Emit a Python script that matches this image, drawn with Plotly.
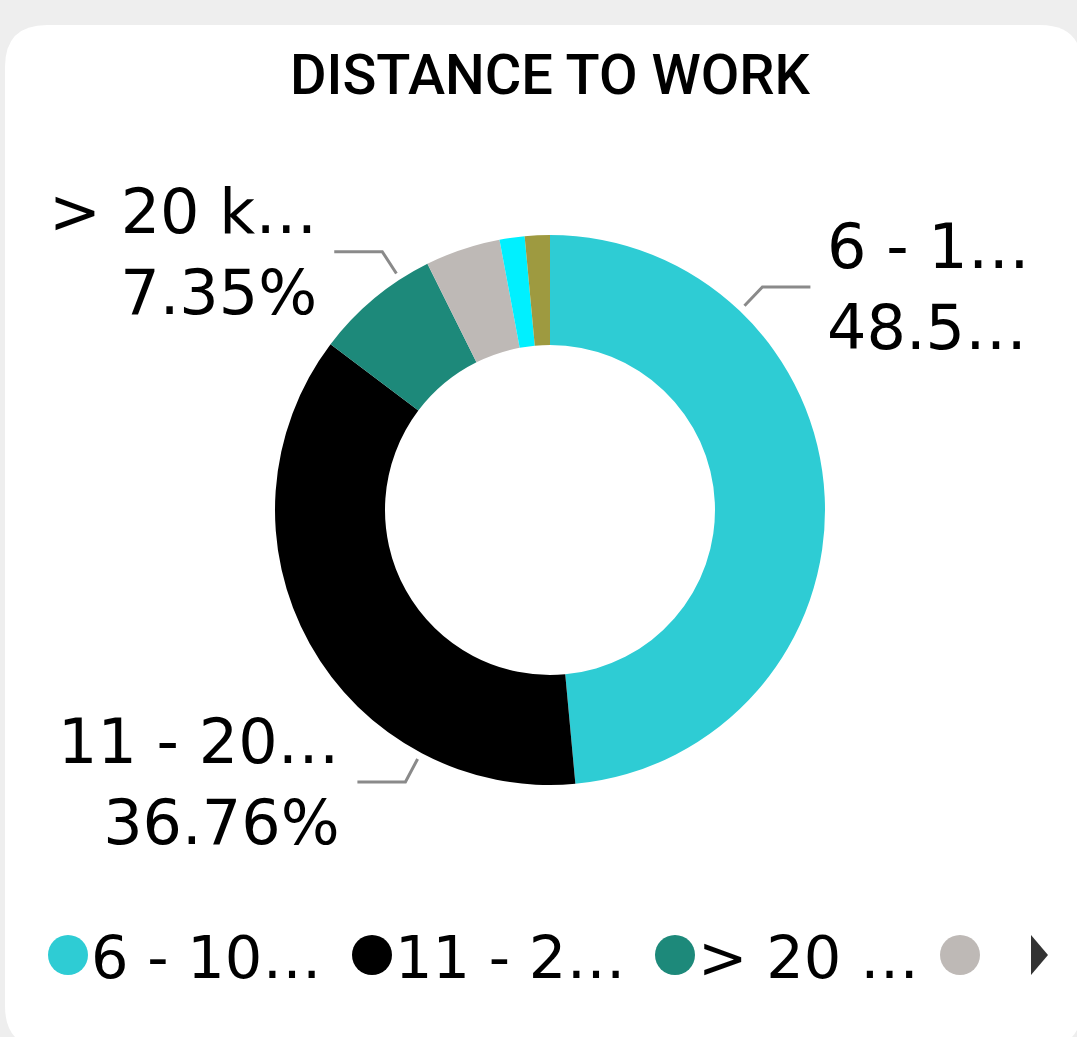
import math
import plotly.graph_objects as go

# ---------------- data ----------------
categories = ["6 - 10 km", "11 - 20 km", "> 20 km", "1 - 5 km", "< 1 km", "Unknown"]
counts = [33, 25, 5, 3, 1, 1]
colors = ["#2ECCD4", "#000000", "#1D897A", "#BEB9B6", "#00F0FF", "#9E9A40"]

# outside data labels (as truncated in the original visual)
label_slices = [0, 1, 2]
label_line1 = ["6 - 1\u2026", "11 - 20\u2026", "> 20 k\u2026"]
label_line2 = ["48.5\u2026", "36.76%", "7.35%"]
label_angles = [43.6, 208.0, 327.0]      # leader-line angle, deg clockwise from 12 o'clock
label_side = ["right", "left", "left"]

legend_labels = ["6 - 10\u2026", "11 - 2\u2026", "> 20 \u2026", ""]
title_text = "DISTANCE TO WORK"

# ---------------- layout helpers ----------------
W, H = 1077, 1037
def px(x):
    return x / W
def py(y):
    return 1 - y / H

cx, cy, R = 550, 510, 275
HOLE = 0.6
FONT = "DejaVu Sans, Verdana, sans-serif"

fig = go.Figure()
fig.add_trace(go.Pie(
    labels=categories,
    values=counts,
    hole=HOLE,
    sort=False,
    direction="clockwise",
    rotation=0,
    marker=dict(colors=colors, line=dict(width=0)),
    textinfo="none",
    hoverinfo="label+percent",
    showlegend=False,
    domain=dict(x=[px(cx - R), px(cx + R)], y=[py(cy + R), py(cy - R)]),
))

shapes = []
annotations = []

# card background (rounded rectangle)
L, T, Rr, B, rad = 5, 25, 1082, 1048, 42
card = (f"M {px(L+rad)},{py(T)} L {px(Rr-rad)},{py(T)} Q {px(Rr)},{py(T)} {px(Rr)},{py(T+rad)} "
        f"L {px(Rr)},{py(B-rad)} Q {px(Rr)},{py(B)} {px(Rr-rad)},{py(B)} "
        f"L {px(L+rad)},{py(B)} Q {px(L)},{py(B)} {px(L)},{py(B-rad)} "
        f"L {px(L)},{py(T+rad)} Q {px(L)},{py(T)} {px(L+rad)},{py(T)} Z")
shapes.append(dict(type="path", xref="paper", yref="paper", path=card,
                   fillcolor="white", line=dict(width=0), layer="below"))

# title
annotations.append(dict(text=title_text, x=px(cx), y=py(75), xref="paper", yref="paper",
                        xanchor="center", yanchor="middle", showarrow=False,
                        font=dict(family="Roboto, DejaVu Sans Condensed, sans-serif", size=56,
                                  weight=500, color="#000000")))

# data labels with leader lines
r_start, r_elbow, h_len, gap = 282, 308, 48, 15
for i, s in enumerate(label_slices):
    a = math.radians(label_angles[i])
    sx, sy = cx + r_start * math.sin(a), cy - r_start * math.cos(a)
    ex, ey = cx + r_elbow * math.sin(a), cy - r_elbow * math.cos(a)
    sign = 1 if label_side[i] == "right" else -1
    hx = ex + sign * h_len
    shapes.append(dict(type="path", xref="paper", yref="paper",
                       path=f"M {px(sx)},{py(sy)} L {px(ex)},{py(ey)} L {px(hx)},{py(ey)}",
                       line=dict(color="#8A8A8A", width=3)))
    tx = hx + sign * gap
    annotations.append(dict(text=f"{label_line1[i]}<br>{label_line2[i]}",
                            x=px(tx), y=py(ey), xref="paper", yref="paper",
                            xanchor="left" if sign > 0 else "right", yanchor="middle",
                            align="left" if sign > 0 else "right", showarrow=False,
                            font=dict(family=FONT, size=62, color="#000000")))

# legend (custom, truncated like the original)
leg_y = 955
leg_dot_x = [68, 372, 675, 960]
dot_r = 20
for i, lx in enumerate(leg_dot_x):
    shapes.append(dict(type="circle", xref="paper", yref="paper",
                       x0=px(lx - dot_r), x1=px(lx + dot_r), y0=py(leg_y + dot_r), y1=py(leg_y - dot_r),
                       fillcolor=colors[i], line=dict(width=0)))
    if legend_labels[i]:
        annotations.append(dict(text=legend_labels[i], x=px(lx + 21), y=py(leg_y + 2),
                                xref="paper", yref="paper", xanchor="left", yanchor="middle",
                                showarrow=False, font=dict(family=FONT, size=59, color="#000000")))
# scroll arrow
shapes.append(dict(type="path", xref="paper", yref="paper",
                   path=f"M {px(1031)},{py(935)} L {px(1048)},{py(955)} L {px(1031)},{py(975)} Z",
                   fillcolor="#333333", line=dict(width=0)))

fig.update_layout(
    width=W, height=H,
    margin=dict(l=0, r=0, t=0, b=0),
    paper_bgcolor="#EEEEEE",
    plot_bgcolor="#EEEEEE",
    shapes=shapes,
    annotations=annotations,
    showlegend=False,
)

fig.write_html(
    "out.html",
    config={"displayModeBar": False},
    post_script="document.body.style.margin='0px';document.body.style.background='#EEEEEE';",
)
